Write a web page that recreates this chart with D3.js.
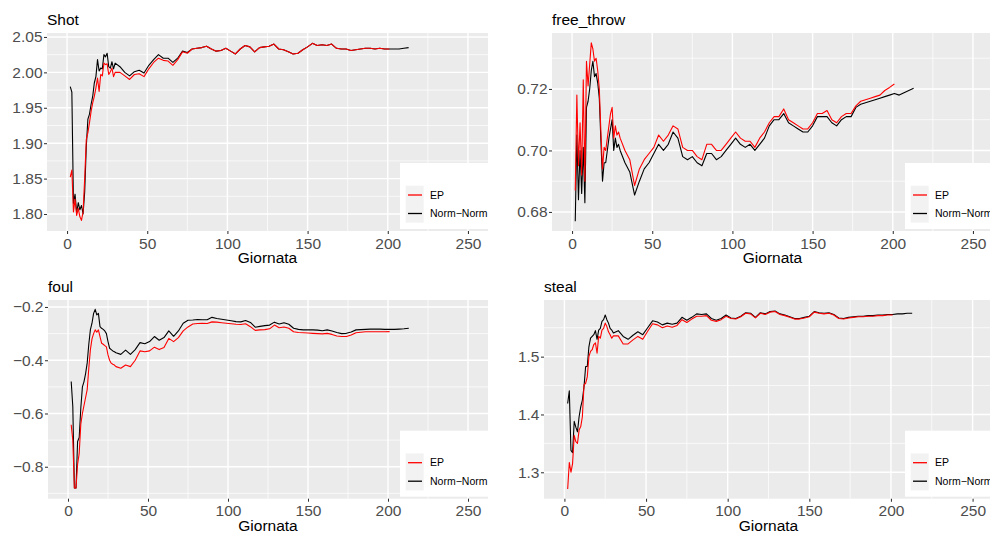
<!DOCTYPE html>
<html><head><meta charset="utf-8">
<script src="https://cdn.jsdelivr.net/npm/d3@7"></script>
<style>html,body{margin:0;padding:0;background:#fff;} svg{display:block;}</style>
</head><body>
<svg id="chart" width="990" height="534"></svg>
<script>
// ---------------- DATA ----------------
const giornata = [2,3,4,5,6,7,8,9,10,11,12,13,14,15,16,17,18,19,20,21,22,23,24,25,26,27,28,29,30,
  33,36,39,42,45,48,51,54,57,60,63,66,69,72,75,78,81,84,87,90,93,96,99,102,105,108,111,114,117,120,
  123,126,129,132,135,138,141,144,147,150,153,156,159,162,165,168,171,174,177,180,183,186,189,192,195,198,201,
  204,207,210,213];

const seriesNames = ["EP", "Norm\u2212Norm"];
const seriesColors = ["#FF0000", "#000000"];

const shotNN = [1.980,1.972,1.815,1.828,1.802,1.816,1.806,1.812,1.800,1.831,1.895,1.934,1.941,1.955,1.966,1.985,1.994,2.018,2.002,2.006,2.005,2.025,2.022,2.027,2.008,2.006,2.015,2.005,2.013,
  2.008,2.000,1.995,2.001,2.003,1.999,2.010,2.018,2.025,2.020,2.020,2.014,2.020,2.030,2.028,2.033,2.034,2.035,2.037,2.033,2.030,2.031,2.034,2.030,2.026,2.033,2.038,2.036,2.029,2.035,
  2.036,2.037,2.040,2.033,2.032,2.029,2.026,2.027,2.032,2.036,2.041,2.038,2.039,2.038,2.040,2.034,2.033,2.033,2.031,2.032,2.033,2.034,2.034,2.033,2.034,2.033,2.033,
  2.033,2.033,2.034,2.035];
const shotEP = [1.852,1.862,1.803,1.821,1.798,1.808,1.796,1.791,1.803,1.850,1.905,1.915,1.929,1.945,1.957,1.966,1.978,1.992,1.973,1.997,1.995,2.013,2.011,2.012,1.997,2.001,2.006,1.994,2.000,
  2.000,1.995,1.990,1.997,1.998,1.994,2.005,2.014,2.020,2.017,2.016,2.010,2.018,2.029,2.027,2.033,2.034,2.035,2.037,2.033,2.030,2.031,2.034,2.030,2.026,2.033,2.038,2.036,2.029,2.035,
  2.036,2.037,2.040,2.033,2.032,2.029,2.026,2.027,2.032,2.036,2.041,2.038,2.039,2.038,2.040,2.034,2.033,2.033,2.031,2.032,2.033,2.034,2.034,2.033,2.034,2.033,2.033];

const ftNN = [0.677,0.705,0.684,0.700,0.686,0.701,0.683,0.714,0.716,0.720,0.726,0.729,0.724,0.725,0.722,0.717,0.703,0.690,0.696,0.696,0.700,0.704,0.707,0.710,0.700,0.704,0.701,0.702,0.700,
  0.696,0.693,0.6855,0.690,0.694,0.696,0.699,0.702,0.700,0.702,0.706,0.704,0.698,0.697,0.698,0.696,0.695,0.699,0.699,0.697,0.698,0.700,0.702,0.704,0.702,0.701,0.702,0.700,0.702,0.704,
  0.708,0.710,0.710,0.712,0.709,0.708,0.707,0.706,0.706,0.708,0.711,0.711,0.711,0.709,0.708,0.710,0.711,0.711,0.714,0.715,0.7155,0.716,0.7165,0.717,0.7175,0.718,0.7185,
  0.718,0.7188,0.7195,0.7202];
const ftEP = [0.687,0.718,0.695,0.709,0.692,0.723,0.690,0.729,0.721,0.728,0.735,0.733,0.729,0.730,0.726,0.720,0.706,0.694,0.701,0.700,0.704,0.708,0.712,0.714,0.704,0.708,0.705,0.706,0.704,
  0.700,0.697,0.6886,0.694,0.697,0.699,0.701,0.705,0.703,0.705,0.708,0.707,0.701,0.700,0.700,0.698,0.697,0.702,0.702,0.700,0.700,0.702,0.704,0.706,0.704,0.703,0.703,0.701,0.704,0.706,
  0.709,0.711,0.711,0.7135,0.710,0.709,0.708,0.707,0.707,0.709,0.712,0.712,0.713,0.710,0.709,0.711,0.712,0.712,0.7145,0.716,0.7165,0.717,0.7175,0.718,0.7195,0.7205,0.7216];

const foulNN = [-0.48,-0.574,-0.88,-0.88,-0.705,-0.69,-0.58,-0.50,-0.48,-0.45,-0.41,-0.34,-0.285,-0.261,-0.224,-0.209,-0.23,-0.224,-0.274,-0.28,-0.284,-0.29,-0.30,-0.33,-0.355,-0.36,-0.365,-0.368,-0.372,
  -0.378,-0.362,-0.378,-0.36,-0.334,-0.338,-0.33,-0.311,-0.325,-0.315,-0.29,-0.31,-0.29,-0.261,-0.25,-0.249,-0.247,-0.248,-0.248,-0.239,-0.243,-0.246,-0.249,-0.252,-0.255,-0.256,-0.251,-0.258,-0.276,-0.273,
  -0.27,-0.268,-0.257,-0.264,-0.259,-0.265,-0.28,-0.284,-0.286,-0.286,-0.286,-0.287,-0.289,-0.286,-0.29,-0.296,-0.30,-0.299,-0.294,-0.286,-0.285,-0.284,-0.283,-0.283,-0.283,-0.284,-0.284,
  -0.284,-0.283,-0.282,-0.28];
const foulEP = [-0.6425,-0.70,-0.88,-0.88,-0.79,-0.75,-0.64,-0.60,-0.57,-0.54,-0.51,-0.43,-0.36,-0.32,-0.30,-0.286,-0.295,-0.286,-0.311,-0.336,-0.34,-0.345,-0.35,-0.38,-0.40,-0.411,-0.415,-0.418,-0.424,
  -0.43,-0.418,-0.424,-0.40,-0.365,-0.368,-0.365,-0.351,-0.36,-0.352,-0.318,-0.33,-0.315,-0.29,-0.275,-0.264,-0.262,-0.261,-0.262,-0.256,-0.257,-0.259,-0.261,-0.263,-0.265,-0.266,-0.263,-0.274,-0.288,-0.286,
  -0.285,-0.282,-0.268,-0.278,-0.275,-0.28,-0.293,-0.296,-0.297,-0.298,-0.299,-0.30,-0.301,-0.299,-0.303,-0.309,-0.311,-0.311,-0.305,-0.297,-0.295,-0.293,-0.293,-0.293,-0.293,-0.293,-0.2925];

const stealNN = [1.419,1.441,1.338,1.334,1.388,1.378,1.370,1.396,1.413,1.425,1.448,1.483,1.483,1.517,1.532,1.535,1.538,1.545,1.530,1.546,1.549,1.561,1.564,1.572,1.564,1.558,1.549,1.546,1.541,
  1.545,1.535,1.530,1.537,1.543,1.538,1.550,1.562,1.560,1.555,1.558,1.556,1.558,1.568,1.563,1.568,1.574,1.573,1.574,1.566,1.563,1.566,1.572,1.567,1.566,1.570,1.576,1.575,1.568,1.576,
  1.574,1.578,1.579,1.574,1.572,1.569,1.566,1.566,1.568,1.570,1.578,1.576,1.575,1.576,1.573,1.567,1.566,1.568,1.569,1.570,1.570,1.571,1.571,1.572,1.572,1.573,1.573,
  1.574,1.574,1.575,1.575];
const stealEP = [1.271,1.317,1.300,1.315,1.364,1.353,1.350,1.373,1.379,1.396,1.451,1.454,1.465,1.500,1.509,1.512,1.521,1.524,1.506,1.535,1.532,1.546,1.549,1.558,1.552,1.543,1.538,1.532,1.536,
  1.536,1.522,1.522,1.529,1.535,1.530,1.544,1.557,1.555,1.550,1.553,1.551,1.554,1.564,1.559,1.565,1.570,1.570,1.571,1.563,1.561,1.564,1.570,1.566,1.565,1.569,1.575,1.574,1.567,1.575,
  1.573,1.577,1.578,1.573,1.571,1.568,1.565,1.565,1.567,1.569,1.577,1.575,1.574,1.575,1.572,1.566,1.565,1.567,1.568,1.569,1.569,1.570,1.570,1.571,1.571,1.572,1.572];

const xTicks = [0, 50, 100, 150, 200, 250];
const xMinor = [25, 75, 125, 175, 225];
const shotTicks = [1.80, 1.85, 1.90, 1.95, 2.00, 2.05];
const shotMinor = [1.825, 1.875, 1.925, 1.975, 2.025];
const ftTicks = [0.68, 0.70, 0.72];
const ftMinor = [0.69, 0.71, 0.73];
const foulTicks = [-0.8, -0.6, -0.4, -0.2];
const foulMinor = [-0.9, -0.7, -0.5, -0.3];
const stealTicks = [1.3, 1.4, 1.5];
const stealMinor = [1.35, 1.45, 1.55];

// ---------------- LAYOUT ----------------
const panels = [
  {title:"Shot", ep:shotEP, nn:shotNN, ticks:shotTicks, minor:shotMinor, fmt:".2f",
   yDomain:[1.776, 2.0556], left:47, right:488, top:33, bottom:231},
  {title:"free_throw", ep:ftEP, nn:ftNN, ticks:ftTicks, minor:ftMinor, fmt:".2f",
   yDomain:[0.6738, 0.7382], left:552, right:993, top:33, bottom:231},
  {title:"foul", ep:foulEP, nn:foulNN, ticks:foulTicks, minor:foulMinor, fmt:".1f",
   yDomain:[-0.92, -0.1738], left:48, right:488, top:300, bottom:498.7},
  {title:"steal", ep:stealEP, nn:stealNN, ticks:stealTicks, minor:stealMinor, fmt:".1f",
   yDomain:[1.2543, 1.598], left:544, right:993, top:300, bottom:498.7}
];

const FONT = "'Liberation Sans', Arial, Helvetica, sans-serif";
const svg = d3.select("#chart");

panels.forEach((p, i) => {
  const x = d3.scaleLinear().domain([-12.5, 262.5]).range([p.left, p.right]);
  const y = d3.scaleLinear().domain(p.yDomain).range([p.bottom, p.top]);
  const g = svg.append("g");

  const clipId = "clip" + i;
  g.append("clipPath").attr("id", clipId).append("rect")
    .attr("x", p.left).attr("y", p.top).attr("width", p.right - p.left).attr("height", p.bottom - p.top);

  g.append("rect").attr("x", p.left).attr("y", p.top)
    .attr("width", p.right - p.left).attr("height", p.bottom - p.top).attr("fill", "#EBEBEB");

  // minor grid
  g.selectAll(".ymin").data(p.minor).enter().append("line")
    .attr("x1", p.left).attr("x2", p.right).attr("y1", d => y(d)).attr("y2", d => y(d))
    .attr("stroke", "#fff").attr("stroke-width", 0.7);
  g.selectAll(".xmin").data(xMinor).enter().append("line")
    .attr("y1", p.top).attr("y2", p.bottom).attr("x1", d => x(d)).attr("x2", d => x(d))
    .attr("stroke", "#fff").attr("stroke-width", 0.7);
  // major grid
  g.selectAll(".ymaj").data(p.ticks).enter().append("line")
    .attr("x1", p.left).attr("x2", p.right).attr("y1", d => y(d)).attr("y2", d => y(d))
    .attr("stroke", "#fff").attr("stroke-width", 1.4);
  g.selectAll(".xmaj").data(xTicks).enter().append("line")
    .attr("y1", p.top).attr("y2", p.bottom).attr("x1", d => x(d)).attr("x2", d => x(d))
    .attr("stroke", "#fff").attr("stroke-width", 1.4);

  // lines: Norm-Norm first, EP on top
  const line = d3.line()
    .defined((d) => d[1] != null)
    .x(d => x(d[0])).y(d => y(d[1]));
  const lg = g.append("g").attr("clip-path", `url(#${clipId})`);
  [[p.nn, seriesColors[1]], [p.ep, seriesColors[0]]].forEach(([vals, col]) => {
    const pts = vals.map((v, k) => [giornata[k], v]);
    lg.append("path").datum(pts).attr("d", line)
      .attr("fill", "none").attr("stroke", col).attr("stroke-width", 1.1)
      .attr("stroke-linejoin", "round");
  });

  // axes
  const yAxis = d3.axisLeft(y).tickValues(p.ticks).tickFormat(d3.format(p.fmt))
    .tickSize(3).tickSizeOuter(0).tickPadding(1.5);
  const ya = g.append("g").attr("transform", `translate(${p.left},0)`).call(yAxis);
  const xAxis = d3.axisBottom(x).tickValues(xTicks).tickFormat(d3.format("d"))
    .tickSize(3).tickSizeOuter(0).tickPadding(3.5);
  const xa = g.append("g").attr("transform", `translate(0,${p.bottom})`).call(xAxis);
  [ya, xa].forEach(a => {
    a.select(".domain").remove();
    a.selectAll(".tick line").attr("stroke", "#333333").attr("stroke-width", 1.05);
    a.selectAll(".tick text").attr("fill", "#4D4D4D").style("font-family", FONT).style("font-size", "15.5px");
  });

  // title
  g.append("text").attr("x", p.left).attr("y", p.top - 8).text(p.title)
    .style("font-family", FONT).style("font-size", "15.5px").attr("fill", "#000");
  // x-axis title
  g.append("text").attr("x", (p.left + p.right) / 2).attr("y", p.bottom + 32)
    .attr("text-anchor", "middle").text("Giornata")
    .style("font-family", FONT).style("font-size", "15.5px").attr("fill", "#000");

  // legend
  const bx = p.right - 88, by = p.bottom - 68;
  const leg = g.append("g");
  leg.append("rect").attr("x", bx).attr("y", by).attr("width", 88).attr("height", 66).attr("fill", "#fff");
  leg.append("rect").attr("x", bx + 5.7).attr("y", p.bottom - 45.3).attr("width", 18).attr("height", 37).attr("fill", "#F2F2F2");
  const keyY = [p.bottom - 36, p.bottom - 17.5];
  seriesNames.forEach((nm, k) => {
    leg.append("line").attr("x1", bx + 8).attr("x2", bx + 22).attr("y1", keyY[k]).attr("y2", keyY[k])
      .attr("stroke", seriesColors[k]).attr("stroke-width", 1.3);
    leg.append("text").attr("x", bx + 30).attr("y", keyY[k]).attr("dy", "0.36em").text(nm)
      .style("font-family", FONT).style("font-size", "10.5px").attr("fill", "#000");
  });
});
</script>
</body></html>
